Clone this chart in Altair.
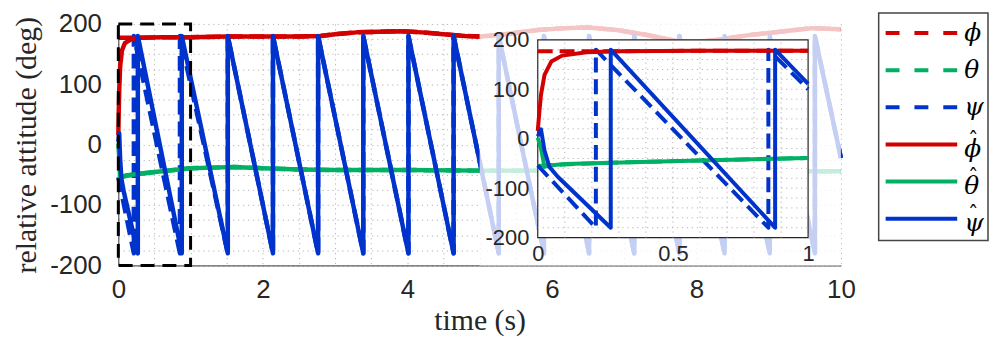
import altair as alt
import pandas as pd

# ---------------- data ----------------
# roll: ground truth phi (dashed) and estimate phi_hat (solid)
phi_t = [0.0, 0.3, 0.6, 1.0, 1.5, 2.0, 2.5, 2.8, 3.0, 3.3, 3.6, 3.9, 4.2, 4.5, 4.8,
         5.0, 5.3, 5.8, 6.2, 6.5, 6.9, 7.3, 7.7, 8.0, 8.3, 8.7, 9.0, 9.3, 9.6, 9.8, 10.0]
phi_v = [177, 177, 178, 178, 179, 179, 179, 180, 183, 186, 187, 188, 186, 183, 180,
         179, 182, 190, 193, 194, 190, 182, 172, 170, 174, 181, 185, 189, 193, 192, 191]
phi_hat_t = [0.0, 0.006, 0.012, 0.025, 0.05, 0.09, 0.18, 0.3, 0.6, 1.0, 1.5, 2.0, 2.5, 2.8,
             3.0, 3.3, 3.6, 3.9, 4.2, 4.5, 4.8, 5.0, 5.3, 5.8, 6.2, 6.5, 6.9, 7.3, 7.7,
             8.0, 8.3, 8.7, 9.0, 9.3, 9.6, 9.8, 10.0]
phi_hat_v = [16, 55, 89, 129, 156, 168, 175, 177, 178, 178, 179, 179, 179, 180,
             183, 186, 187, 188, 186, 183, 180, 179, 182, 190, 193, 194, 190, 182, 172,
             170, 174, 181, 185, 189, 193, 192, 191]

# pitch: theta (dashed) and theta_hat (solid)
theta_t = [0.0, 0.1, 0.24, 0.6, 1.0, 1.3, 1.6, 2.0, 2.5, 3.0, 4.0, 5.0, 6.0, 7.0, 8.0, 9.0, 10.0]
theta_v = [-55, -52, -49, -44, -39, -38, -37, -39, -41, -42, -42, -43, -43, -43, -44, -44, -44]
theta_hat_t = [0.0, 0.012, 0.025, 0.043, 0.1, 0.24, 0.6, 1.0, 1.3, 1.6, 2.0, 2.5, 3.0,
               4.0, 5.0, 6.0, 7.0, 8.0, 9.0, 10.0]
theta_hat_v = [2, -20, -57, -54, -51, -49, -44, -39, -38, -37, -39, -41, -42,
               -42, -43, -43, -43, -44, -44, -44]

# yaw: psi (dashed) and psi_hat (solid), wrapping sawtooth
psi_t = [0.0, 0.215, 0.215, 0.853, 0.853, 1.0, 1.515, 1.515, 2.14, 2.14, 2.765, 2.765,
         3.39, 3.39, 4.015, 4.015, 4.64, 4.64, 5.265, 5.265, 5.89, 5.89, 6.515, 6.515,
         7.14, 7.14, 7.765, 7.765, 8.39, 8.39, 9.015, 9.015, 9.64, 9.64, 10.0]
psi_v = [-54, -180, 180, -180, 180, 100, -180, 180, -180, 180, -180, 180,
         -180, 180, -180, 180, -180, 180, -180, 180, -180, 180, -180, 180,
         -180, 180, -180, 180, -180, 180, -180, 180, -180, 180, -22]
psi_hat_t = [0.0, 0.012, 0.025, 0.043, 0.074, 0.27, 0.27, 0.878, 0.878, 1.0, 1.515, 1.515,
             2.14, 2.14, 2.765, 2.765, 3.39, 3.39, 4.015, 4.015, 4.64, 4.64, 5.265, 5.265,
             5.89, 5.89, 6.515, 6.515, 7.14, 7.14, 7.765, 7.765, 8.39, 8.39, 9.015, 9.015,
             9.64, 9.64, 10.0]
psi_hat_v = [5, 19, -24, -57, -77, -180, 180, -180, 180, 111, -180, 180,
             -180, 180, -180, 180, -180, 180, -180, 180, -180, 180, -180, 180,
             -180, 180, -180, 180, -180, 180, -180, 180, -180, 180, -180, 180,
             -180, 180, -22]

# ticks / grid
MAIN_X_GRID = [0, 0.5, 1, 1.5, 2, 2.5, 3, 3.5, 4, 4.5, 5, 5.5, 6, 6.5, 7, 7.5, 8, 8.5, 9, 9.5, 10]
MAIN_X_LABELS = [0, 2, 4, 6, 8, 10]
MAIN_Y_GRID = [-200, -175, -150, -125, -100, -75, -50, -25, 0, 25, 50, 75, 100,
               125, 150, 175, 200]
MAIN_Y_LABELS = [-200, -100, 0, 100, 200]
INSET_X_LABELS = [0, 0.5, 1]
INSET_Y_LABELS = [-200, -100, 0, 100, 200]
INSET_X_GRID = [0.1, 0.2, 0.3, 0.4, 0.5, 0.6, 0.7, 0.8, 0.9]
INSET_Y_GRID = [-180, -160, -140, -120, -100, -80, -60, -40, -20, 0, 20, 40, 60, 80,
                100, 120, 140, 160, 180]
ZOOM_BOX_T = [0, 1]
FADE_T = [5, 10]

# legend: symbol letter, hat or not, dashed or not
LEG_LETTERS = ["\u03d5", "\u03b8", "\u03c8", "\u03d5", "\u03b8", "\u03c8"]
LEG_HAT = [False, False, False, True, True, True]
LEG_DASHED = [True, True, True, False, False, False]
HAT_CHAR = "\u02c6"

RED, GREEN, BLUE = "#d20000", "#00b064", "#0033cc"
LEG_COLORS = [RED, GREEN, BLUE, RED, GREEN, BLUE]

# ---------------- layout / style ----------------
W, H = 727, 243
IN_X = [422, 694]
IN_Y = [215, 16]
SANS = "Liberation Sans"
SERIF = "Liberation Serif"
TXT = "#262626"
GRID_C = "#b3b3b3"
DASH = [15, 7]


def frame(ts, vs):
    return pd.DataFrame({"t": ts, "v": vs, "i": list(range(len(ts)))})


def lab_expr(vals):
    arr = ",".join(str(v) for v in vals)
    return f"indexof([{arr}], datum.value) >= 0 ? '' + datum.value : ''"


main_xs = alt.Scale(domain=[0, 10], nice=False, zero=False)
main_ys = alt.Scale(domain=[-200, 200], nice=False, zero=False)
main_xa = alt.Axis(orient="bottom", values=MAIN_X_GRID, labelExpr=lab_expr(MAIN_X_LABELS),
                   grid=True, gridColor=GRID_C, gridDash=[1.2, 3.8], gridWidth=1,
                   ticks=False, domainColor="#333333", domainWidth=1,
                   labelFont=SANS, labelFontSize=26, labelColor=TXT, labelPadding=11,
                   labelFlush=False, labelOverlap=False,
                   title="time (s)", titleFont=SERIF, titleFontSize=30,
                   titleFontWeight="normal", titleColor=TXT, titlePadding=3)
main_ya = alt.Axis(orient="left", values=MAIN_Y_GRID, labelExpr=lab_expr(MAIN_Y_LABELS),
                   grid=True, gridColor=GRID_C, gridDash=[1.2, 3.8], gridWidth=1,
                   ticks=False, domainColor="#333333", domainWidth=1,
                   labelFont=SANS, labelFontSize=26, labelColor=TXT, labelPadding=17,
                   labelFlush=False, labelOverlap=False,
                   title="relative attitude (deg)", titleFont=SERIF, titleFontSize=30,
                   titleFontWeight="normal", titleColor=TXT, titlePadding=8)

in_xs = alt.Scale(domain=[0, 1], nice=False, zero=False, range=IN_X)
in_ys = alt.Scale(domain=[-200, 200], nice=False, zero=False, range=IN_Y)
in_xa = alt.Axis(orient="bottom", offset=-(H - IN_Y[0]), values=INSET_X_LABELS,
                 labelExpr="'' + datum.value", grid=False, domain=False, ticks=False,
                 labelFont=SANS, labelFontSize=22, labelColor=TXT, labelPadding=6,
                 labelFlush=False, labelOverlap=False, title=None, zindex=1)
in_ya = alt.Axis(orient="left", offset=-IN_X[0], values=INSET_Y_LABELS,
                 labelExpr="'' + datum.value", grid=False, domain=False, ticks=False,
                 labelFont=SANS, labelFontSize=22, labelColor=TXT, labelPadding=9,
                 labelFlush=False, labelOverlap=False, title=None, zindex=1)

SERIES = [
    (frame(phi_t, phi_v), RED, True),
    (frame(theta_t, theta_v), GREEN, True),
    (frame(psi_t, psi_v), BLUE, True),
    (frame(phi_hat_t, phi_hat_v), RED, False),
    (frame(theta_hat_t, theta_hat_v), GREEN, False),
    (frame(psi_hat_t, psi_hat_v), BLUE, False),
]


def lines(xs, ys, xa, ya, width, inset):
    out = []
    for df, col, dashed in SERIES:
        kw = dict(color=col, strokeWidth=width, strokeJoin="round")
        if dashed:
            kw["strokeDash"] = DASH
        ch = alt.Chart(df).mark_line(**kw).encode(
            x=alt.X("t:Q", scale=xs, axis=xa),
            y=alt.Y("v:Q", scale=ys, axis=ya),
            order="i:Q",
        )
        if inset:
            ch = ch.transform_filter("datum.t <= 1")
        out.append(ch)
    return out


# ---------------- main panel ----------------
box_df = pd.DataFrame({"t0": [ZOOM_BOX_T[0]], "t1": [ZOOM_BOX_T[1]], "y0": [-200], "y1": [200]})
zoom_box = alt.Chart(box_df).mark_rect(fillOpacity=0, stroke="black", strokeWidth=3,
                                        strokeDash=[14, 8]).encode(
    x=alt.X("t0:Q", scale=main_xs, axis=main_xa), x2="t1:Q",
    y=alt.Y("y0:Q", scale=main_ys, axis=main_ya), y2="y1:Q")
fade_df = pd.DataFrame({"t0": [FADE_T[0]], "t1": [FADE_T[1]], "y0": [-200], "y1": [200]})
fade = alt.Chart(fade_df).mark_rect(color="white", opacity=0.77).encode(
    x=alt.X("t0:Q", scale=main_xs, axis=main_xa), x2="t1:Q",
    y=alt.Y("y0:Q", scale=main_ys, axis=main_ya), y2="y1:Q")
main = alt.layer(*lines(main_xs, main_ys, main_xa, main_ya, 4.5, False), zoom_box, fade)

# ---------------- inset panel ----------------
in_bg_df = pd.DataFrame({"t0": [0], "t1": [1], "y0": [-200], "y1": [200]})
in_bg = alt.Chart(in_bg_df).mark_rect(fill="white", stroke=TXT, strokeWidth=1.2).encode(
    x=alt.X("t0:Q", scale=in_xs, axis=in_xa), x2="t1:Q",
    y=alt.Y("y0:Q", scale=in_ys, axis=in_ya), y2="y1:Q")
gx_df = pd.DataFrame({"g": INSET_X_GRID, "y0": -200, "y1": 200})
gy_df = pd.DataFrame({"g": INSET_Y_GRID, "t0": 0, "t1": 1})
in_gx = alt.Chart(gx_df).mark_rule(color=GRID_C, strokeDash=[1.2, 3.8], strokeWidth=1).encode(
    x=alt.X("g:Q", scale=in_xs, axis=in_xa),
    y=alt.Y("y0:Q", scale=in_ys, axis=in_ya), y2="y1:Q")
in_gy = alt.Chart(gy_df).mark_rule(color=GRID_C, strokeDash=[1.2, 3.8], strokeWidth=1).encode(
    y=alt.Y("g:Q", scale=in_ys, axis=in_ya),
    x=alt.X("t0:Q", scale=in_xs, axis=in_xa), x2="t1:Q")
inset = alt.layer(in_bg, in_gx, in_gy, *lines(in_xs, in_ys, in_xa, in_ya, 4, True))

# ---------------- legend ----------------
leg_df = pd.DataFrame({"letter": LEG_LETTERS, "hat": LEG_HAT, "row": list(range(6)),
                       "color": LEG_COLORS, "dashed": LEG_DASHED,
                       "a": 7, "b": 79, "tx": 86})
lg_xs = alt.Scale(domain=[0, 110], nice=False, zero=False, range=[765, 875])
lg_ys = alt.Scale(domain=[-0.54, 5.59], nice=False, zero=False, range=[-11, 218])
lg_box_df = pd.DataFrame({"x0": [0], "x1": [110], "y0": [-0.54], "y1": [5.59]})
lg_box = alt.Chart(lg_box_df).mark_rect(fill="white", stroke="#444444", strokeWidth=1.5).encode(
    x=alt.X("x0:Q", scale=lg_xs, axis=None), x2="x1:Q",
    y=alt.Y("y0:Q", scale=lg_ys, axis=None), y2="y1:Q")
lg_dash = alt.Chart(leg_df).transform_filter("datum.dashed").mark_rule(
    strokeWidth=4, strokeDash=[14, 15]).encode(
    x=alt.X("a:Q", scale=lg_xs, axis=None), x2="b:Q",
    y=alt.Y("row:Q", scale=lg_ys, axis=None),
    color=alt.Color("color:N", scale=None))
lg_solid = alt.Chart(leg_df).transform_filter("!datum.dashed").mark_rule(
    strokeWidth=4).encode(
    x=alt.X("a:Q", scale=lg_xs, axis=None), x2="b:Q",
    y=alt.Y("row:Q", scale=lg_ys, axis=None),
    color=alt.Color("color:N", scale=None))
lg_text = alt.Chart(leg_df).transform_calculate(
    ly="datum.hat ? datum.row + 0.13 : datum.row").mark_text(
    font="DejaVu Serif", fontStyle="italic", fontSize=25,
    align="left", baseline="middle", color="black").encode(
    x=alt.X("tx:Q", scale=lg_xs, axis=None),
    y=alt.Y("ly:Q", scale=lg_ys, axis=None),
    text="letter:N")
lg_hat = alt.Chart(leg_df).transform_filter("datum.hat").transform_calculate(
    hatchar=f"'{HAT_CHAR}'", hx="datum.tx + 9", hy="datum.row - 0.1").mark_text(
    font="DejaVu Serif", fontSize=21, align="center", baseline="middle",
    color="black").encode(
    x=alt.X("hx:Q", scale=lg_xs, axis=None),
    y=alt.Y("hy:Q", scale=lg_ys, axis=None),
    text="hatchar:N")
legend = alt.layer(lg_box, lg_dash, lg_solid, lg_text, lg_hat)

chart = alt.layer(main, inset, legend).resolve_scale(
    x="independent", y="independent").resolve_axis(
    x="independent", y="independent").properties(
    width=W, height=H,
    padding={"left": 3, "top": 2, "right": 0, "bottom": 0}).configure_view(stroke=None)

chart.save("out.html", embed_options={"renderer": "svg", "actions": False})
